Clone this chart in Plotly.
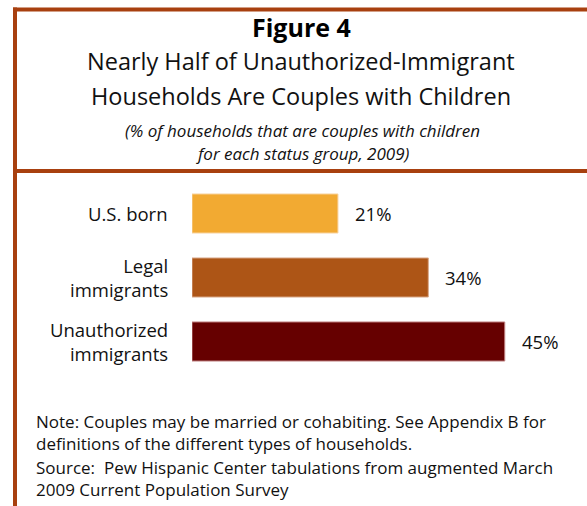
import plotly.graph_objects as go

# Data
groups = ["U.S. born", "Legal immigrants", "Unauthorized immigrants"]
group_labels = ["U.S. born", "Legal<br>immigrants", "Unauthorized<br>immigrants"]
shares = [21, 34, 45]
bar_colors = ["#F2AA32", "#AD5516", "#660000"]
edge_colors = ["#F8D3A0", "#D9A88A", "#C08080"]

title_bold = "Figure 4"
title_lines = ["Nearly Half of Unauthorized-Immigrant", "Households Are Couples with Children"]
subtitle_lines = ["(% of households that are couples with children", "for each status group, 2009)"]
note_lines = [
    "Note: Couples may be married or cohabiting. See Appendix B for",
    "definitions of the different types of households.",
    "Source:  Pew Hispanic Center tabulations from augmented March",
    "2009 Current Population Survey",
]

W, H = 587, 506
FONT = "Open Sans"
BORDER = "#A8400F"


def px_x(x):
    return x / W


def px_y(y):
    return 1 - y / H


fig = go.Figure(
    go.Bar(
        y=groups,
        x=shares,
        orientation="h",
        width=0.61,
        marker=dict(color=bar_colors, line=dict(color=edge_colors, width=1)),
        hoverinfo="skip",
    )
)

x_max = 55
x_left, px_per_unit = 192, 6.95
fig.update_xaxes(
    domain=[px_x(x_left), px_x(x_left + px_per_unit * x_max)],
    range=[0, x_max],
    visible=False,
)
fig.update_yaxes(
    domain=[px_y(373.5), px_y(181.5)],
    range=[2.5, -0.5],
    type="category",
    visible=False,
)

annotations = []

# Category labels
for g, lab in zip(groups, group_labels):
    annotations.append(dict(
        x=px_x(170), xref="paper", y=g, yref="y",
        text=lab, showarrow=False, xanchor="right", yanchor="middle",
        align="right", font=dict(family=FONT, size=18.5, color="#111111"),
    ))

# Value labels
for g, v in zip(groups, shares):
    annotations.append(dict(
        x=v, xref="x", y=g, yref="y", xshift=15,
        text=f"{v}%", showarrow=False, xanchor="left", yanchor="middle",
        font=dict(family=FONT, size=18.5, color="#111111"),
    ))

# Title block
annotations.append(dict(
    x=px_x(301), y=px_y(27), xref="paper", yref="paper",
    text=f"<b>{title_bold}</b>", showarrow=False, xanchor="center", yanchor="middle",
    font=dict(family=FONT, size=25, color="#000000"),
))
for yy, line in zip([61, 96], title_lines):
    annotations.append(dict(
        x=px_x(301), y=px_y(yy), xref="paper", yref="paper",
        text=line, showarrow=False, xanchor="center", yanchor="middle",
        font=dict(family=FONT, size=23.5, color="#111111"),
    ))
for yy, line in zip([130, 153], subtitle_lines):
    annotations.append(dict(
        x=px_x(302), y=px_y(yy), xref="paper", yref="paper",
        text=f"<i>{line}</i>", showarrow=False, xanchor="center", yanchor="middle",
        font=dict(family=FONT, size=17, color="#111111"),
    ))

# Notes and source
for yy, line in zip([421, 443, 467, 489], note_lines):
    annotations.append(dict(
        x=px_x(34), y=px_y(yy), xref="paper", yref="paper",
        text=line, showarrow=False, xanchor="left", yanchor="middle",
        font=dict(family=FONT, size=17, color="#111111"),
    ))

shapes = [
    # top rule
    dict(type="line", xref="paper", yref="paper", x0=px_x(13), x1=1,
         y0=px_y(9.5), y1=px_y(9.5), line=dict(color=BORDER, width=4)),
    # left rule
    dict(type="line", xref="paper", yref="paper", x0=px_x(15), x1=px_x(15),
         y0=px_y(7.5), y1=0, line=dict(color=BORDER, width=4)),
    # divider under the title block
    dict(type="line", xref="paper", yref="paper", x0=px_x(13), x1=1,
         y0=px_y(171), y1=px_y(171), line=dict(color=BORDER, width=4)),
]

fig.update_layout(
    width=W, height=H,
    margin=dict(l=0, r=0, t=0, b=0),
    paper_bgcolor="white", plot_bgcolor="white",
    showlegend=False,
    annotations=annotations,
    shapes=shapes,
    font=dict(family=FONT),
)

fig.write_html("out.html", config={"displayModeBar": False})
